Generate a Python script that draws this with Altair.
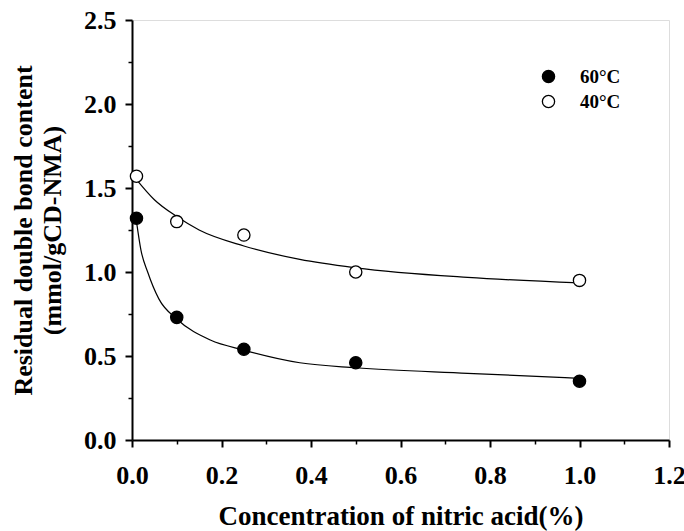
import altair as alt
import pandas as pd

# measured points
conc = [0.01, 0.1, 0.25, 0.5, 1.0]
y60 = [1.32, 0.73, 0.54, 0.46, 0.35]
y40 = [1.57, 1.30, 1.22, 1.00, 0.95]

# fitted curves
c40_x = [0.01, 0.05, 0.1, 0.15, 0.25, 0.375, 0.5, 0.75, 1.0]
c40_y = [1.55, 1.43, 1.33, 1.25, 1.155, 1.075, 1.025, 0.968, 0.935]
c60_x = [0.01, 0.02, 0.035, 0.06, 0.1, 0.175, 0.25, 0.375, 0.5, 0.75, 1.0]
c60_y = [1.30, 1.13, 1.00, 0.84, 0.72, 0.595, 0.535, 0.46, 0.43, 0.397, 0.367]

series = ["60°C", "40°C"]
x_ticks = [0.0, 0.1, 0.2, 0.3, 0.4, 0.5, 0.6, 0.7, 0.8, 0.9, 1.0, 1.1, 1.2]
y_ticks = [0.0, 0.25, 0.5, 0.75, 1.0, 1.25, 1.5, 1.75, 2.0, 2.25, 2.5]

pts = pd.DataFrame({
    "x": conc + conc,
    "y": y60 + y40,
    "s": [series[0]] * len(conc) + [series[1]] * len(conc),
})
curves = pd.DataFrame({
    "x": c60_x + c40_x,
    "y": c60_y + c40_y,
    "s": [series[0]] * len(c60_x) + [series[1]] * len(c40_x),
})

FONT = "Liberation Serif"
xs = alt.Scale(domain=[0, 1.2], nice=False)
ys = alt.Scale(domain=[0, 2.5], nice=False)

x_minor = "round(datum.value*10) % 2 == 1"
y_minor = "round(datum.value*4) % 2 == 1"

x_axis = alt.Axis(values=x_ticks, format=".1f",
                  tickSize={"condition": {"test": x_minor, "value": 4}, "value": 7},
                  tickWidth={"condition": {"test": x_minor, "value": 1.5}, "value": 2},
                  labelExpr=f"{x_minor} ? '' : datum.label",
                  domainWidth=2, domainColor="black", tickColor="black",
                  labelFont=FONT, labelFontSize=26, labelFontWeight="bold",
                  labelColor="black", labelPadding=15, grid=False,
                  title="Concentration of nitric acid(%)", titleFont=FONT,
                  titleFontSize=27, titleFontWeight="bold", titleColor="black",
                  titlePadding=15, labelFlush=False, labelOverlap=False)
y_axis = alt.Axis(values=y_ticks, format=".1f",
                  tickSize={"condition": {"test": y_minor, "value": 4}, "value": 7},
                  tickWidth={"condition": {"test": y_minor, "value": 1.5}, "value": 2},
                  labelExpr=f"{y_minor} ? '' : datum.label",
                  domainWidth=2, domainColor="black", tickColor="black",
                  labelFont=FONT, labelFontSize=26, labelFontWeight="bold",
                  labelColor="black", labelPadding=9, grid=False,
                  title=["Residual double bond content", "(mmol/gCD-NMA)"],
                  titleFont=FONT, titleFontSize=26, titleFontWeight="bold",
                  titleColor="black", titlePadding=18, titleLineHeight=29,
                  labelFlush=False, labelOverlap=False)

lines = alt.Chart(curves).mark_line(color="black", strokeWidth=1.2, interpolate="monotone").encode(
    x=alt.X("x:Q", scale=xs, axis=x_axis),
    y=alt.Y("y:Q", scale=ys, axis=y_axis),
    detail="s:N",
)

points = alt.Chart(pts).mark_point(shape="circle", filled=True, size=150, stroke="black",
                                   strokeWidth=1.3, opacity=1).encode(
    x=alt.X("x:Q", scale=xs),
    y=alt.Y("y:Q", scale=ys),
    fill=alt.Fill("s:N", scale=alt.Scale(domain=series, range=["black", "white"]),
                  legend=alt.Legend(title=None, orient="none", legendX=407, legendY=47,
                                    symbolType="circle", symbolSize=150,
                                    symbolStrokeColor="black", symbolStrokeWidth=1.3,
                                    labelFont=FONT, labelFontSize=19, labelFontWeight="bold",
                                    labelColor="black", labelOffset=22, rowPadding=5,
                                    padding=0)),
)

chart = alt.layer(lines, points).properties(
    width=537, height=420,
    padding={"left": 132, "top": 20, "right": 15, "bottom": 91},
    autosize=alt.AutoSizeParams(type="none"),
).configure_view(stroke="black", strokeWidth=2).configure(background="white")

chart.save("out.html", embed_options={"renderer": "svg", "actions": False})
